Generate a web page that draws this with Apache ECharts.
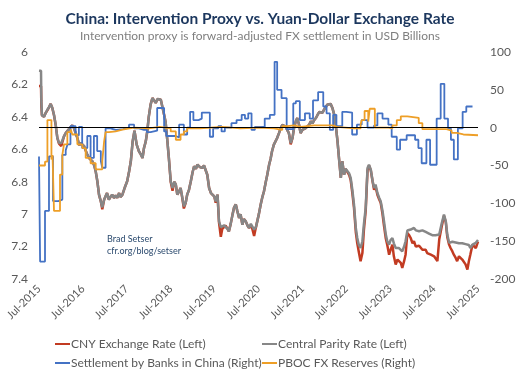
<!DOCTYPE html>
<html><head><meta charset="utf-8">
<script src="https://cdn.jsdelivr.net/npm/echarts@6/dist/echarts.min.js"></script>
<style>html,body{margin:0;padding:0;background:#fff}#c{width:520px;height:378px}</style>
</head><body><div id="c"></div>
<script>
// x tick labels (one per 12 months, starting Jul-2015)
const xTickLabels = ['Jul-2015','Jul-2016','Jul-2017','Jul-2018','Jul-2019','Jul-2020','Jul-2021','Jul-2022','Jul-2023','Jul-2024','Jul-2025'];

// Exchange rates: months since Jul-2015
const fxMonths = [
 0.0,0.55,0.64,0.8,1.37,1.82,2.28,2.73,3.19,3.64,
 4.1,4.56,5.01,5.47,6.1,6.83,7.3,7.75,8.47,9.1,
 9.57,10.02,10.48,11.0,11.4,12.3,12.8,13.2,13.7,14.1,
 14.6,15.1,15.5,15.95,16.4,16.9,17.3,17.8,18.2,18.6,
 19.1,19.5,20.0,20.5,20.96,21.4,21.9,22.3,22.8,23.4,
 24.1,24.6,25.1,25.6,26.1,26.7,27.3,27.8,28.3,28.7,
 29.2,29.6,30.0,30.5,31.0,31.5,31.9,32.4,32.8,33.3,
 33.8,34.2,34.6,35.1,35.5,36.0,36.5,37.0,37.4,37.8,
 38.3,38.7,39.2,39.6,40.1,40.5,41.0,41.5,42.0,42.4,
 42.9,43.3,44.0,44.6,45.1,45.6,46.0,46.5,47.0,47.4,
 47.9,48.3,48.8,49.2,49.7,50.1,50.6,51.0,51.5,51.9,
 52.4,52.9,53.3,53.8,54.2,54.7,55.1,55.6,56.0,56.5,
 57.0,57.4,57.9,58.3,58.8,59.3,59.7,60.1,60.6,61.0,
 61.5,62.0,62.4,62.9,63.3,63.7,64.2,64.6,65.1,65.6,
 66.1,66.5,67.0,67.4,67.9,68.3,68.8,69.3,69.7,70.2,
 70.6,71.1,71.5,72.0,72.4,72.9,73.4,73.8,74.3,74.8,
 75.2,75.7,76.1,76.6,77.0,77.5,77.9,78.4,78.8,79.3,
 79.7,80.2,80.7,81.1,81.6,82.0,82.5,82.9,83.4,83.8,
 84.3,84.8,85.2,85.7,86.1,86.6,87.0,87.4,87.9,88.4,
 88.8,89.3,89.8,90.2,90.7,91.2,91.6,92.0,92.5,93.0,
 93.4,93.9,94.3,94.8,95.2,95.7,96.1,96.6,97.0,97.5,
 98.0,98.4,98.9,99.3,99.8,100.2,100.7,101.2,101.6,102.1,
 102.5,103.0,103.4,103.9,104.3,104.8,105.2,105.7,106.1,106.6,
 107.1,107.5,108.0,108.4,108.9,109.4,110.0,110.7,111.2,111.6,
 112.1,112.5,113.0,113.4,113.9,114.3,114.8,115.3,115.7,116.2,
 116.6,117.1,117.5,117.9,118.5,119.0,119.4,120.0
];
const parityRate = [
 6.115,6.116,6.30,6.39,6.40,6.376,6.356,6.341,6.32,6.345,
 6.387,6.448,6.53,6.561,6.561,6.52,6.50,6.489,6.468,6.452,
 6.47,6.50,6.53,6.575,6.56,6.58,6.61,6.633,6.654,6.645,
 6.674,6.70,6.736,6.797,6.88,6.921,6.958,6.911,6.89,6.87,
 6.911,6.895,6.88,6.90,6.885,6.90,6.87,6.895,6.88,6.839,
 6.797,6.74,6.674,6.551,6.485,6.571,6.612,6.63,6.654,6.592,
 6.55,6.489,6.40,6.325,6.284,6.30,6.314,6.29,6.28,6.295,
 6.305,6.387,6.43,6.551,6.654,6.797,6.839,6.80,6.818,6.88,
 6.86,6.839,6.90,6.952,6.93,6.88,6.85,6.797,6.74,6.705,
 6.72,6.695,6.71,6.715,6.70,6.695,6.757,6.839,6.87,6.86,
 6.89,6.921,6.88,7.044,7.08,7.085,7.07,7.065,7.09,7.106,
 7.06,7.003,6.96,6.94,6.98,7.024,7.00,7.065,7.03,7.044,
 7.07,7.085,7.06,7.065,7.095,7.08,7.04,7.00,6.94,6.90,
 6.859,6.80,6.757,6.695,6.66,6.612,6.571,6.56,6.53,6.50,
 6.468,6.45,6.448,6.46,6.458,6.50,6.561,6.53,6.47,6.427,
 6.407,6.45,6.50,6.48,6.489,6.47,6.468,6.45,6.427,6.44,
 6.42,6.407,6.39,6.37,6.366,6.375,6.356,6.34,6.325,6.314,
 6.32,6.345,6.387,6.448,6.551,6.654,6.777,6.674,6.757,6.72,
 6.715,6.75,6.777,6.859,6.94,7.085,7.147,7.188,7.209,7.167,
 7.065,6.962,6.715,6.695,6.726,6.797,6.839,6.818,6.87,6.90,
 6.921,6.98,7.044,7.126,7.167,7.188,7.16,7.147,7.18,7.209,
 7.20,7.209,7.21,7.229,7.20,7.167,7.101,7.10,7.095,7.09,
 7.085,7.10,7.106,7.105,7.106,7.10,7.101,7.11,7.116,7.12,
 7.126,7.13,7.137,7.13,7.126,7.126,7.065,7.003,7.044,7.126,
 7.177,7.167,7.17,7.167,7.175,7.177,7.18,7.177,7.18,7.177,
 7.185,7.188,7.19,7.209,7.188,7.18,7.177,7.16
];
const cnyRate = [
 6.21,6.21,6.33,6.39,6.40,6.376,6.36,6.341,6.32,6.345,
 6.39,6.45,6.53,6.565,6.58,6.52,6.50,6.489,6.468,6.452,
 6.47,6.50,6.53,6.575,6.56,6.58,6.61,6.633,6.654,6.645,
 6.674,6.70,6.736,6.797,6.88,6.921,6.97,6.911,6.89,6.87,
 6.911,6.895,6.88,6.90,6.885,6.90,6.87,6.895,6.88,6.839,
 6.797,6.74,6.674,6.551,6.485,6.571,6.612,6.63,6.654,6.592,
 6.55,6.489,6.40,6.325,6.284,6.30,6.314,6.29,6.28,6.295,
 6.305,6.387,6.43,6.551,6.654,6.80,6.855,6.80,6.818,6.88,
 6.86,6.839,6.905,6.965,6.93,6.88,6.85,6.797,6.74,6.705,
 6.72,6.695,6.71,6.715,6.70,6.695,6.757,6.839,6.87,6.86,
 6.89,6.93,6.88,7.05,7.14,7.09,7.09,7.07,7.09,7.106,
 7.06,7.003,6.96,6.94,6.98,7.024,7.00,7.065,7.03,7.044,
 7.07,7.085,7.07,7.09,7.135,7.08,7.04,7.00,6.94,6.90,
 6.859,6.80,6.757,6.695,6.66,6.612,6.571,6.56,6.53,6.50,
 6.468,6.45,6.448,6.46,6.458,6.50,6.57,6.53,6.47,6.427,
 6.407,6.45,6.50,6.48,6.489,6.47,6.468,6.45,6.427,6.44,
 6.42,6.407,6.39,6.37,6.366,6.375,6.356,6.34,6.325,6.314,
 6.32,6.345,6.387,6.448,6.551,6.654,6.777,6.674,6.757,6.72,
 6.72,6.76,6.79,6.88,6.96,7.11,7.18,7.23,7.29,7.24,
 7.10,6.98,6.73,6.70,6.73,6.80,6.85,6.83,6.88,6.91,
 6.93,7.00,7.07,7.15,7.19,7.25,7.22,7.188,7.26,7.311,
 7.28,7.27,7.30,7.332,7.29,7.25,7.116,7.13,7.147,7.18,
 7.167,7.20,7.209,7.195,7.188,7.22,7.229,7.22,7.24,7.235,
 7.25,7.245,7.26,7.27,7.29,7.157,7.085,7.01,7.05,7.14,
 7.188,7.209,7.23,7.25,7.27,7.29,7.26,7.25,7.28,7.29,
 7.31,7.342,7.29,7.25,7.188,7.20,7.209,7.17
];

// Settlement by banks in China (USD bn), step starts
const settleMonths = [
 0,0.3,1.64,2.73,3.83,5.3,6.38,7.3,7.8,8.6,
 10.0,10.9,11.8,13.2,14.1,15.0,15.9,16.9,17.3,18.2,
 19.5,21.0,23.0,24.6,26.0,27.3,28.7,29.5,30.5,32.3,
 34.2,34.8,37.4,38.3,39.6,40.5,41.3,42.2,43.6,44.5,
 46.7,47.6,49.0,49.9,50.8,52.6,54.0,55.4,56.3,57.2,
 58.1,59.0,60.4,61.7,63.1,64.4,65.1,66.3,67.7,69.5,
 70.2,71.3,72.7,74.0,74.9,76.3,77.7,78.6,79.5,80.4,
 81.3,82.9,84.0,85.6,86.9,88.2,89.8,91.6,92.5,93.9,
 95.5,96.4,97.8,98.7,100.5,102.8,103.7,104.6,105.9,106.9,
 108.7,109.8,110.8,111.8,112.6,113.4,114.5,115.8,116.8,118.5
];
const settleValues = [
 -38,-177,-110,-38,-97,-95,-36,-30,-22,2,
 -10,1,-27,-11,-40,-11,-31,-44,-53,-1,
 -3,-2,0,4,-1,-3,-3,-6,-4,26,
 -5,-11,-13,4,-9,0,21,10,12,20,
 -12,-1,2,-5,0,6,10,17,12,19,
 -3,1,1,12,17,87,50,39,-2,32,
 35,10,19,12,36,47,28,19,-3,17,
 2,21,20,-9,4,10,0,3,19,12,
 4,-12,-29,-16,-10,-16,-27,-47,-16,-49,
 12,58,12,-1,-16,-42,-1,21,28,28
];

// PBOC FX reserves (USD bn), step starts
const pbocMonths = [
 0,1.64,2.3,3.4,3.7,4.1,5.74,6.38,6.83,7.75,
 8.66,9.1,10.48,11.85,12.76,14.1,15.5,17.3,17.8,18.2,
 19.1,20.96,22.8,26.0,30,33,36.0,37.4,38.7,39.6,
 40.5,44,50,55,60,64.2,66.5,67.9,69.7,71.5,
 75.2,80.2,81.5,86.1,87.9,88.2,89.0,90.0,90.4,91.8,
 95.5,96.6,97.8,98.9,100.7,103.8,104.8,108,111.4,112.8,
 114.2,116,120
];
const pbocValues = [
 -50,-45,10,-42,-36,-110,-62,-36,-22,-6,
 -2,-9,-22,-27,-40,-47,-55,-44,-18,-6,
 -5,-2.6,0,-1,1,-1,-5,-16,-9,-5,
 -1,1,-1,0,-1,-3,2,3,1,3,
 3,1,-1,-1,4,10,22,8,25,0,
 -1,3,10,15,13,6,-2,-2,-4,-7,
 -9,-10,-10
];

const seriesNames = ['CNY Exchange Rate (Left)','Central Parity Rate (Left)','Settlement by Banks in China (Right)','PBOC FX Reserves (Right)'];
const colors = ['#c23b22','#878787','#4472c4','#ee9f27'];

const zip = (a,b) => a.map((v,i)=>[v,b[i]]);
const FONT = 'Lato, "Open Sans", sans-serif';
const chart = echarts.init(document.getElementById('c'));
const legendBase = {padding:0, icon:'rect', itemWidth:15, itemHeight:2,
  textStyle:{color:'#595959', fontSize:12, fontFamily:FONT, padding:[0,0,0,-4]}};
chart.setOption({
  animation:false,
  title:[
    {text:'China: Intervention Proxy vs. Yuan-Dollar Exchange Rate', left:'center', top:6,
     textStyle:{fontFamily:FONT, fontSize:15.5, fontWeight:'bold', color:'#1c375e'}},
    {text:'Intervention proxy is forward-adjusted FX settlement in USD Billions', left:'center', top:25,
     textStyle:{fontFamily:FONT, fontSize:12, fontWeight:'normal', color:'#7f7f7f'}}
  ],
  grid:{left:39, right:42, top:52, bottom:99},
  xAxis:{type:'value', min:0, max:120, interval:12,
    axisLine:{show:false}, axisTick:{show:false}, splitLine:{show:false},
    axisLabel:{rotate:45, margin:8, color:'#595959', fontSize:11, fontFamily:FONT,
      showMinLabel:true, showMaxLabel:true,
      formatter:v=>xTickLabels[Math.round(v/12)]}},
  yAxis:[
    {type:'value', inverse:true, min:6, max:7.4, interval:0.2, position:'left',
     axisLine:{show:false}, axisTick:{show:false}, splitLine:{show:false},
     axisLabel:{margin:11, color:'#595959', fontSize:12, fontFamily:FONT}},
    {type:'value', min:-200, max:100, interval:50, position:'right',
     axisLine:{show:false}, axisTick:{show:false}, splitLine:{show:false},
     axisLabel:{margin:12, color:'#595959', fontSize:12, fontFamily:FONT}}
  ],
  legend:[
    Object.assign({data:[seriesNames[0]], left:55, top:338}, legendBase),
    Object.assign({data:[seriesNames[1]], left:262, top:338}, legendBase),
    Object.assign({data:[seriesNames[2]], left:55, top:357}, legendBase),
    Object.assign({data:[seriesNames[3]], left:262, top:357}, legendBase)
  ],
  graphic:[
    {type:'text', left:107, top:235, style:{text:'Brad Setser', font:'9px Lato', fill:'#2b4a6e'}},
    {type:'text', left:107, top:247, style:{text:'cfr.org/blog/setser', font:'9px Lato', fill:'#2b4a6e'}}
  ],
  series:[
    {name:seriesNames[0], type:'line', yAxisIndex:0, data:zip(fxMonths,cnyRate), showSymbol:false, symbol:'none',
     lineStyle:{color:colors[0], width:2.5}, itemStyle:{color:colors[0]}},
    {name:seriesNames[1], type:'line', yAxisIndex:0, data:zip(fxMonths,parityRate), showSymbol:false, symbol:'none',
     lineStyle:{color:colors[1], width:2.5}, itemStyle:{color:colors[1]}},
    {name:seriesNames[2], type:'line', yAxisIndex:1, step:'end', data:zip(settleMonths,settleValues), showSymbol:false, symbol:'none',
     lineStyle:{color:colors[2], width:1.8}, itemStyle:{color:colors[2]},
     markLine:{silent:true, symbol:'none', label:{show:false}, lineStyle:{color:'#000', width:1, type:'solid'}, data:[{yAxis:0}]}},
    {name:seriesNames[3], type:'line', yAxisIndex:1, step:'end', data:zip(pbocMonths,pbocValues), showSymbol:false, symbol:'none',
     lineStyle:{color:colors[3], width:1.8}, itemStyle:{color:colors[3]}}
  ]
});
</script></body></html>
